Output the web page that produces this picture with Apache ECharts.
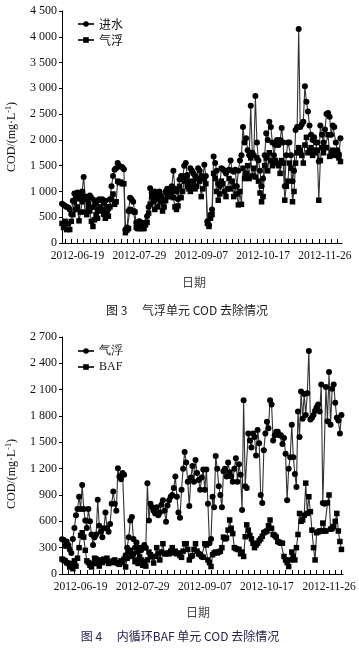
<!DOCTYPE html>
<html><head><meta charset="utf-8">
<script src="https://cdn.jsdelivr.net/npm/echarts@6/dist/echarts.min.js"></script>
<style>html,body{margin:0;padding:0;background:#fff}#c{width:359px;height:648px}</style>
</head><body><div id="c"></div>
<script>
// ---- data ----
const labelDates = ['2012-06-19','2012-07-29','2012-09-07','2012-10-17','2012-11-26'];
function makeDates(y, m, d, n) {
  const out = [];
  for (let i = 0; i < n; i++) {
    const t = new Date(Date.UTC(y, m - 1, d + i));
    out.push(t.toISOString().slice(0, 10));
  }
  return out;
}
const dates1 = makeDates(2012, 6, 9, 182);
const dates2 = makeDates(2012, 6, 7, 182);

// Fig.3 进水 (influent)
const inflow1 = [
 760,740,720,700,690,650,560,820,960,900,
 980,860,950,1000,1280,900,850,780,920,880,
 700,830,760,640,850,830,850,780,820,700,
 660,850,1100,1300,1420,1450,1550,1500,1480,1470,
 1430,260,300,620,880,850,800,600,400,380,
 420,400,380,350,400,520,700,1060,980,900,
 1000,960,880,1000,920,850,820,1000,1050,1050,
 1050,1100,1400,1050,1000,850,1230,1300,1250,1500,
 1550,1320,1200,1450,1400,1350,1300,1250,1450,1400,
 1300,1250,1520,1300,420,350,550,650,1680,1550,
 1400,1150,1100,1450,1430,1400,1350,1400,1420,1600,
 1400,1380,1420,1100,1400,1600,1700,2250,1950,2030,
 1800,1700,2660,1750,1700,2850,1950,1600,1400,1100,
 1250,1700,2130,2000,2350,2250,1950,1700,1900,2000,
 1900,2000,2230,1950,1100,1700,1950,1950,1700,1200,
 1400,2190,2250,4150,2250,2300,2350,3040,2740,2550,
 2280,2100,2000,2050,1950,1950,1580,2280,2100,1950,
 2200,2500,2520,2450,2100,2280,2250,1950,1800,1720,2030
];
// Fig.3 气浮 (flotation effluent)
const float1 = [
 380,300,420,260,380,260,420,550,800,650,
 700,430,600,800,850,600,550,700,620,420,
 320,450,550,480,620,700,650,560,480,600,
 520,700,850,950,750,800,1200,1170,1180,1150,
 1150,200,250,280,650,620,620,600,300,280,
 280,300,280,280,350,400,580,750,900,800,
 650,850,700,900,800,620,700,820,900,900,
 1000,950,880,700,650,720,1100,880,1000,1200,
 1300,1100,1050,1000,1100,1200,1050,1100,1250,1200,
 900,1050,1250,1150,380,320,480,550,1350,1250,
 1000,830,950,1200,1150,1000,900,1050,1250,1050,
 1200,900,1100,950,740,1000,750,1450,1250,1350,
 1500,1250,1650,1300,1450,1280,1650,1200,970,800,
 900,1500,1650,1400,1750,1600,1500,1550,1600,1550,
 1500,1350,1600,1550,830,1100,1200,1550,1450,800,
 1000,1550,1750,1850,1800,1700,1550,1900,2050,1750,
 1800,1850,1700,1800,1750,1800,830,1600,1850,1750,
 1850,1850,2100,1680,1750,1800,1700,1750,1700,1650,1580
];
// Fig.4 气浮 (BAF influent)
const float2 = [
 395,390,320,370,330,280,240,400,525,670,
 740,880,740,1015,740,610,525,740,600,450,
 330,420,450,845,550,480,420,520,700,520,
 480,570,800,940,800,720,1205,1110,1080,1150,
 1130,215,300,420,610,650,400,300,360,250,
 300,270,300,330,300,1035,610,800,760,720,
 690,760,670,700,790,840,720,595,780,840,
 880,900,980,1110,880,700,640,960,1200,1390,
 1270,1050,775,1100,1230,1050,1300,1150,1070,960,
 1100,1190,960,1190,800,350,400,880,760,1345,
 1200,1000,900,760,1170,1200,1110,1270,1160,1110,
 1050,1200,1320,1050,1250,1130,730,1980,1000,980,
 1600,1520,1440,1600,1560,1350,1640,1490,900,810,
 1410,1600,1735,1660,1980,1930,1520,1580,1620,1620,
 1580,1580,1480,1550,1370,840,1200,1330,1700,1330,
 1140,990,1850,1560,2080,1770,2050,1810,2060,2540,
 1760,1780,1810,1860,1900,1930,1850,2160,810,800,
 2130,1740,2300,1700,2110,2160,1950,1780,1750,1600,1810
];
// Fig.4 BAF effluent
const baf2 = [
 170,160,150,130,120,80,120,60,150,90,
 180,300,440,470,420,270,150,130,100,80,
 120,180,170,120,90,160,130,170,150,180,
 120,140,130,150,160,130,120,110,150,130,
 170,80,180,250,270,200,230,140,160,120,
 195,160,100,140,90,160,250,220,195,125,
 200,300,230,160,250,345,230,230,240,230,
 260,300,240,260,230,240,210,190,260,345,
 345,280,160,200,210,280,345,260,230,220,
 200,190,345,330,160,130,85,220,240,250,
 240,250,260,300,420,400,410,500,615,520,
 460,300,290,280,280,230,250,200,425,560,
 500,440,400,350,300,330,350,380,400,430,
 470,480,490,550,615,520,450,440,420,370,
 360,350,350,200,160,130,85,160,250,200,
 160,300,450,690,600,615,670,1035,690,880,
 710,500,300,160,470,480,490,490,580,490,
 490,810,900,510,520,540,600,690,490,370,280
];
const seriesNames = { in1: '进水', fl1: '气浮', fl2: '气浮', baf: 'BAF' };

// ---- chart ----
const SERIF = "'Liberation Serif', serif";
const CJK = "'Noto Sans CJK SC', sans-serif";
function fmtY(v) {
  if (v >= 1000) return Math.floor(v / 1000) + ' ' + String(v % 1000).padStart(3, '0');
  return String(v);
}
function xAxisFor(gridIndex, dates) {
  const li = dates.indexOf(labelDates[0]);
  return {
    type: 'category', gridIndex, data: dates, boundaryGap: false,
    axisLine: { lineStyle: { color: '#000', width: 1 } },
    axisTick: { inside: true, length: 4, lineStyle: { color: '#000' },
      interval: (i) => ((i - li) % 4 + 4) % 4 === 0 },
    axisLabel: { interval: (i, v) => labelDates.indexOf(v) >= 0, color: '#111',
      fontFamily: SERIF, fontSize: 11.5, margin: 7, hideOverlap: false },
    splitLine: { show: false }
  };
}
function yAxisFor(gridIndex, max, step) {
  return {
    type: 'value', gridIndex, min: 0, max, interval: step,
    axisLine: { show: true, lineStyle: { color: '#000', width: 1 } },
    axisTick: { show: true, inside: false, length: 3, lineStyle: { color: '#000' } },
    axisLabel: { formatter: fmtY, color: '#111', fontFamily: SERIF, fontSize: 12, margin: 5 },
    splitLine: { show: false }
  };
}
function lineSeries(id, data, xi, symbol, size) {
  return {
    id, name: id, type: 'line', xAxisIndex: xi, yAxisIndex: xi, data,
    symbol, symbolSize: size, showAllSymbol: true, connectNulls: true, animation: false,
    lineStyle: { color: '#333', width: 1.1 }, itemStyle: { color: '#000' }
  };
}
const yName = (x, y) => ({
  type: 'text', x, y, rotation: Math.PI / 2,
  style: { text: 'COD/(mg·L{s|-1})', fill: '#111', fontFamily: SERIF, fontSize: 12,
    align: 'center', verticalAlign: 'middle',
    rich: { s: { fontSize: 8, fontFamily: SERIF, padding: [0, 0, 6, 0] } } }
});
const chart = echarts.init(document.getElementById('c'), null, { renderer: 'canvas' });
chart.setOption({
  backgroundColor: '#fff',
  animation: false,
  grid: [
    { left: 62, top: 11, width: 280, height: 232 },
    { left: 62, top: 337, width: 281, height: 237 }
  ],
  xAxis: [xAxisFor(0, dates1), xAxisFor(1, dates2)],
  yAxis: [yAxisFor(0, 4500, 500), yAxisFor(1, 2700, 300)],
  legend: [
    { data: ['in1', 'fl1'], left: 72, top: 13, orient: 'vertical', itemGap: 4,
      itemWidth: 16, itemHeight: 7, formatter: n => seriesNames[n],
      textStyle: { fontFamily: CJK, fontSize: 12, color: '#111' } },
    { data: ['fl2', 'baf'], left: 72, top: 340, orient: 'vertical', itemGap: 4,
      itemWidth: 16, itemHeight: 7, formatter: n => seriesNames[n],
      textStyle: { fontFamily: SERIF, fontSize: 12, color: '#111' } }
  ],
  series: [
    lineSeries('in1', inflow1, 0, 'circle', 6),
    lineSeries('fl1', float1, 0, 'rect', 5.5),
    lineSeries('fl2', float2, 1, 'circle', 6),
    lineSeries('baf', baf2, 1, 'rect', 5.5)
  ],
  graphic: [
    yName(12, 137),
    yName(12, 474),
    { type: 'text', x: 194, y: 282, style: { text: '日期', fill: '#444', fontFamily: CJK, fontSize: 12, align: 'center', verticalAlign: 'middle' } },
    { type: 'text', x: 198, y: 612, style: { text: '日期', fill: '#444', fontFamily: CJK, fontSize: 12, align: 'center', verticalAlign: 'middle' } },
    { type: 'text', x: 187, y: 310, style: { text: '图 3　 气浮单元 COD 去除情况', fill: '#1a1a1a', fontFamily: CJK, fontSize: 12, align: 'center', verticalAlign: 'middle' } },
    { type: 'text', x: 180, y: 636, style: { text: '图 4　 内循环BAF 单元 COD 去除情况', fill: '#2a2050', fontFamily: CJK, fontSize: 12, align: 'center', verticalAlign: 'middle' } }
  ]
});
</script>
</body></html>
